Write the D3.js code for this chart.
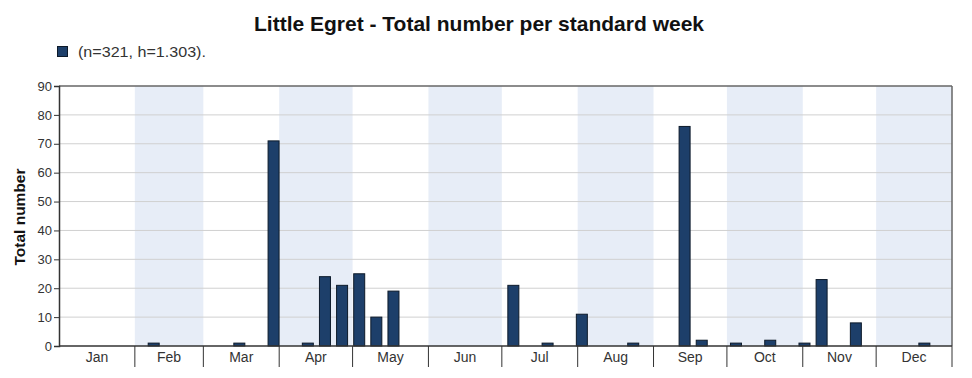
<!DOCTYPE html>
<html>
<head>
<meta charset="utf-8">
<script src="https://cdn.jsdelivr.net/npm/d3@7"></script>
<style>
  body { margin: 0; background: #fff; }
  text { font-family: "Liberation Sans", Arial, sans-serif; }
</style>
</head>
<body>
<div id="chart"></div>
<script>
// Standard weeks with sightings (week number -> total count)
const weeks = [6, 11, 13, 15, 16, 17, 18, 19, 20, 27, 29, 31, 34, 37, 38, 40, 42, 44, 45, 47, 51];
const totals = [1, 1, 71, 1, 24, 21, 25, 10, 19, 21, 1, 11, 1, 76, 2, 1, 2, 1, 23, 8, 1];
const months = ["Jan", "Feb", "Mar", "Apr", "May", "Jun", "Jul", "Aug", "Sep", "Oct", "Nov", "Dec"];
const monthDays = [31, 28, 31, 30, 31, 30, 31, 31, 30, 31, 30, 31];
const yTicks = [0, 10, 20, 30, 40, 50, 60, 70, 80, 90];
const legendText = "(n=321, h=1.303).";

const W = 972, H = 378;
const margin = { top: 86, right: 20, bottom: 32, left: 59 };
const innerW = W - margin.left - margin.right;
const innerH = H - margin.top - margin.bottom;

const svg = d3.select("#chart").append("svg")
  .attr("width", W)
  .attr("height", H);

// x is in days of the year, week k covers days (k-1)*7 .. k*7
const x = d3.scaleLinear().domain([0, 365]).range([0, innerW]);
const y = d3.scaleLinear().domain([0, 90]).range([innerH, 0]);

const monthStart = Array.from(d3.cumsum([0].concat(monthDays.slice(0, -1))));

const g = svg.append("g")
  .attr("transform", `translate(${margin.left},${margin.top})`);

// alternate month shading
g.append("g")
  .selectAll("rect")
  .data(months.map((m, i) => ({ m, i, s: monthStart[i], d: monthDays[i] })).filter((d) => d.i % 2 === 1))
  .join("rect")
  .attr("x", (d) => x(d.s))
  .attr("width", (d) => x(d.s + d.d) - x(d.s))
  .attr("y", 0)
  .attr("height", innerH)
  .attr("fill", "#e7edf7");

// gridlines
g.append("g")
  .selectAll("line")
  .data(yTicks.filter((t) => t > 0 && t < 90))
  .join("line")
  .attr("x1", 0)
  .attr("x2", innerW)
  .attr("y1", (d) => y(d))
  .attr("y2", (d) => y(d))
  .attr("stroke", "#d0d0d0")
  .attr("stroke-width", 1);

// frame: top and right
g.append("line").attr("x1", 0).attr("x2", innerW).attr("y1", 0).attr("y2", 0)
  .attr("stroke", "#666").attr("stroke-width", 1.5);
g.append("line").attr("x1", innerW).attr("x2", innerW).attr("y1", 0).attr("y2", innerH)
  .attr("stroke", "#666").attr("stroke-width", 1.5);

// bars
const barW = 11;
g.append("g")
  .selectAll("rect")
  .data(weeks.map((w, i) => ({ w, v: totals[i] })))
  .join("rect")
  .attr("x", (d) => x((d.w - 1) * 7 + 3.5) - barW / 2 + 0.5)
  .attr("width", barW)
  .attr("y", (d) => y(d.v))
  .attr("height", (d) => innerH - y(d.v))
  .attr("fill", "#1d3f6a")
  .attr("stroke", "#0d1a2a")
  .attr("stroke-width", 1);

// y axis
const yAxis = g.append("g")
  .call(d3.axisLeft(y).tickValues(yTicks).tickSize(5).tickPadding(2));
yAxis.select(".domain").attr("stroke", "#333").attr("stroke-width", 1.5);
yAxis.selectAll(".tick line").attr("stroke", "#333");
yAxis.selectAll(".tick text")
  .attr("fill", "#333")
  .style("font-size", "13px")
  .style("font-family", "'Liberation Sans', Arial, sans-serif");

// x axis: month boundaries as ticks, labels centred within month
const xAxis = g.append("g").attr("transform", `translate(0,${innerH})`);
xAxis.append("line").attr("x1", 0).attr("x2", innerW).attr("y1", 0).attr("y2", 0)
  .attr("stroke", "#333").attr("stroke-width", 1.5);
xAxis.selectAll("line.tick")
  .data(monthStart.slice(1).concat([365]))
  .join("line")
  .attr("class", "tick")
  .attr("x1", (d) => x(d))
  .attr("x2", (d) => x(d))
  .attr("y1", 0)
  .attr("y2", 21)
  .attr("stroke", "#333")
  .attr("stroke-width", 1);
xAxis.selectAll("text")
  .data(months)
  .join("text")
  .attr("x", (d, i) => x(monthStart[i] + monthDays[i] / 2))
  .attr("y", 16)
  .attr("text-anchor", "middle")
  .attr("fill", "#333")
  .style("font-size", "14px")
  .text((d) => d);

// y axis title
svg.append("text")
  .attr("transform", `translate(25,${margin.top + innerH / 2 + 1}) rotate(-90)`)
  .attr("text-anchor", "middle")
  .attr("font-weight", "bold")
  .attr("fill", "#111")
  .style("font-size", "15.5px")
  .text("Total number");

// title
svg.append("text")
  .attr("x", 479)
  .attr("y", 31)
  .attr("text-anchor", "middle")
  .attr("font-weight", "bold")
  .attr("fill", "#111")
  .style("font-size", "21px")
  .text("Little Egret - Total number per standard week");

// legend
svg.append("rect")
  .attr("x", 57.5).attr("y", 46.5)
  .attr("width", 10).attr("height", 10)
  .attr("fill", "#1d3f6a")
  .attr("stroke", "#0d1a2a");
svg.append("text")
  .attr("transform", "translate(78,57) scale(1.15,1)")
  .attr("fill", "#333")
  .style("font-size", "14px")
  .text(legendText);
</script>
</body>
</html>
